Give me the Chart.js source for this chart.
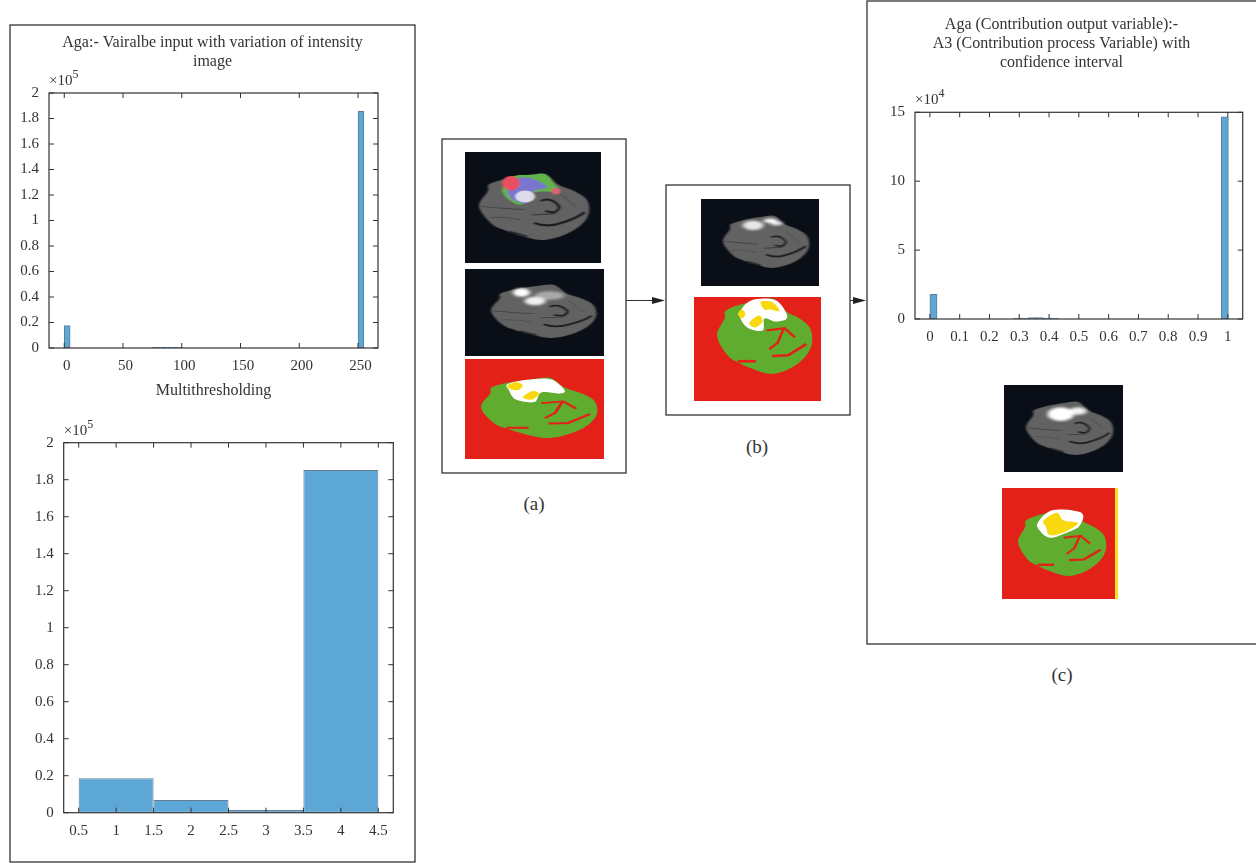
<!DOCTYPE html>
<html>
<head>
<meta charset="utf-8">
<title>Multithresholding histograms</title>
<script src="https://cdn.jsdelivr.net/npm/chart.js@4"></script>
<style>
  html, body { margin: 0; padding: 0; background: #fff; width: 1256px; height: 863px; overflow: hidden; }
  canvas, #figure { position: absolute; }
  #figure { left: 0; top: 0; }
</style>
</head>
<body>
<svg id="figure" width="1256" height="863" xmlns="http://www.w3.org/2000/svg"></svg>
<canvas id="inputHist"></canvas>
<canvas id="binHist"></canvas>
<canvas id="outputHist"></canvas>
<script>
// Histogram values
const inputBins = [2.5, 77.5, 82.5, 87.5, 92.5, 97.5, 252.5];
const inputCounts = [17500, 500, 600, 700, 600, 500, 185600];
const inputXTicks = [0, 50, 100, 150, 200, 250];
const inputYTicks = [0, 20000, 40000, 60000, 80000, 100000, 120000, 140000, 160000, 180000, 200000];

const classBins = [1, 2, 3, 4];
const classCounts = [18600, 6800, 1400, 185200];
const classXTicks = [0.5, 1, 1.5, 2, 2.5, 3, 3.5, 4, 4.5];
const classYTicks = inputYTicks;

const outputBins = [0.012, 0.295, 0.32, 0.344, 0.368, 0.393, 0.417, 0.99];
const outputCounts = [17900, 500, 600, 1100, 1100, 700, 500, 146800];
const outputXTicks = [0, 0.1, 0.2, 0.3, 0.4, 0.5, 0.6, 0.7, 0.8, 0.9, 1];
const outputYTicks = [0, 50000, 100000, 150000];

const SERIF = "'Liberation Serif', serif";
const INK = "#333";

// Matlab style box with inward ticks and the x10^n multiplier
const boxPlugin = {
  id: "box",
  afterDatasetsDraw(chart, args, opts) {
    const { ctx, chartArea: a, scales } = chart;
    ctx.save();
    ctx.strokeStyle = INK;
    ctx.lineWidth = 1.2;
    ctx.strokeRect(a.left, a.top, a.width, a.height);
    ctx.lineWidth = 1;
    ctx.beginPath();
    scales.x.ticks.forEach((t) => {
      const px = scales.x.getPixelForValue(t.value);
      ctx.moveTo(px, a.top); ctx.lineTo(px, a.top + 5);
      ctx.moveTo(px, a.bottom); ctx.lineTo(px, a.bottom - 5);
    });
    scales.y.ticks.forEach((t) => {
      const py = scales.y.getPixelForValue(t.value);
      ctx.moveTo(a.left, py); ctx.lineTo(a.left + 5, py);
      ctx.moveTo(a.right, py); ctx.lineTo(a.right - 5, py);
    });
    ctx.stroke();
    ctx.fillStyle = INK;
    ctx.textAlign = "left";
    ctx.textBaseline = "alphabetic";
    ctx.font = "15px " + SERIF;
    ctx.fillText("×10", a.left, a.top - 8);
    const w = ctx.measureText("×10").width;
    ctx.font = "12px " + SERIF;
    ctx.fillText(opts.exponent, a.left + w, a.top - 15);
    ctx.restore();
  },
};

function histogram(id, frame, spec) {
  const canvas = document.getElementById(id);
  canvas.style.left = frame.left + "px";
  canvas.style.top = frame.top + "px";
  canvas.style.width = frame.width + "px";
  canvas.style.height = frame.height + "px";
  canvas.width = frame.width;
  canvas.height = frame.height;
  return new Chart(canvas, {
    type: "bar",
    data: {
      datasets: [{
        data: spec.bins.map((x, i) => ({ x, y: spec.counts[i] })),
        backgroundColor: "#5ca7d6",
        borderColor: "rgba(60,90,120,0.8)",
        borderWidth: 1,
        borderSkipped: false,
        barPercentage: 1,
        // Chart.js takes the bar slot from the tick gap when it is smaller than the bin gap
        categoryPercentage: spec.binsPerSlot || 1,
        grouped: false,
      }],
    },
    options: {
      responsive: false,
      animation: false,
      layout: { padding: frame.padding },
      plugins: {
        legend: { display: false },
        tooltip: { enabled: false },
        title: spec.title ? {
          display: true,
          text: spec.title,
          color: INK,
          font: { family: SERIF, size: 16, weight: "normal", lineHeight: 18.7 / 16 },
          padding: spec.titlePadding,
        } : { display: false },
        box: { exponent: spec.exponent },
      },
      scales: {
        x: {
          type: "linear",
          offset: false,
          min: spec.xRange[0],
          max: spec.xRange[1],
          grid: { display: false, tickLength: 0 },
          border: { display: false },
          afterBuildTicks: (axis) => { axis.ticks = spec.xTicks.map((value) => ({ value })); },
          afterFit: (axis) => { axis.height = frame.axisHeight; },
          title: spec.xTitle ? {
            display: true,
            text: spec.xTitle,
            color: INK,
            font: { family: SERIF, size: 16 },
            padding: { top: 0, bottom: 5 },
          } : { display: false },
          ticks: {
            color: INK,
            font: { family: SERIF, size: 15 },
            padding: 9,
            maxRotation: 0,
            autoSkip: false,
            labelOffset: spec.labelOffset || 0,
            callback: (v) => String(v),
          },
        },
        y: {
          min: spec.yTicks[0],
          max: spec.yTicks[spec.yTicks.length - 1],
          grid: { display: false, tickLength: 0 },
          border: { display: false },
          afterBuildTicks: (axis) => { axis.ticks = spec.yTicks.map((value) => ({ value })); },
          afterFit: (axis) => { axis.width = frame.axisWidth; },
          ticks: {
            color: INK,
            font: { family: SERIF, size: 15 },
            padding: 10,
            autoSkip: false,
            callback: (v) => String(+(v / Math.pow(10, spec.exponent)).toFixed(1)),
          },
        },
        // empty right axis keeps the title centred on the whole panel
        margin: {
          position: "right",
          grid: { display: false },
          border: { display: false },
          ticks: { display: false },
          afterFit: (axis) => { axis.width = frame.marginRight; },
        },
      },
    },
    plugins: [boxPlugin],
  });
}

histogram("inputHist",
  { left: 10, top: 26, width: 405, height: 379, axisWidth: 39, axisHeight: 57, marginRight: 37, padding: 0 },
  {
    bins: inputBins, counts: inputCounts, xTicks: inputXTicks, yTicks: inputYTicks,
    xRange: [-13, 267], exponent: 5, labelOffset: 2.5,
    title: ["Aga:- Vairalbe input with variation of intensity", "image"],
    titlePadding: { top: 7.3, bottom: 22.3 },
    xTitle: "Multithresholding",
  });

histogram("binHist",
  { left: 10, top: 415, width: 405, height: 445, axisWidth: 53.7, axisHeight: 47.3, marginRight: 21.7, padding: { top: 27.7 } },
  {
    bins: classBins, counts: classCounts, xTicks: classXTicks, yTicks: classYTicks,
    xRange: [0.3, 4.7], exponent: 5, binsPerSlot: 2,
  });

histogram("outputHist",
  { left: 868, top: 2, width: 387, height: 348, axisWidth: 47, axisHeight: 31, marginRight: 12.3, padding: 0 },
  {
    bins: outputBins, counts: outputCounts, xTicks: outputXTicks, yTicks: outputYTicks,
    xRange: [-0.05, 1.05], exponent: 4,
    title: ["Aga (Contribution output variable):-", "A3 (Contribution process Variable) with", "confidence interval"],
    titlePadding: { top: 13.6, bottom: 40.6 },
  });

// Frames, arrows, captions and the brain pictures around the charts
const brainOutline = [[23, 8], [44, 2], [60, 0], [72, 16], [87, 26], [98, 39], [100, 59], [93, 77], [78, 92], [57, 100], [35, 92], [23, 85], [11, 75], [0, 49], [8, 26], [9, 16]];
const graySulci = [
  ["M50 74 Q62 82 75 74 Q88 68 96 58", 3.4, 1],
  ["M56 41 Q66 34 73 49 Q72 62 60 56", 3, 1],
  ["M2 49 Q20 52 41 54", 1.4, 0.5],
  ["M27 87 Q36 90 44 95", 2.4, 0.9],
  ["M48 62 L70 60", 1.6, 0.6],
  ["M10 66 Q24 64 38 70", 1.2, 0.35],
  ["M74 30 Q84 44 88 50", 1.2, 0.3],
];
const redSulci = [
  ["M52 42 L71 39 L82 51", 2.8],
  ["M70 40 L64 58 L55 67", 2.8],
  ["M58 76 L75 75 L94 60", 3.4],
  ["M22 83 L41 83", 3.6],
];

function smoothPath(pts) {
  const n = pts.length;
  let d = `M${pts[0]} `;
  for (let i = 0; i < n; i++) {
    const p0 = pts[(i + n - 1) % n], p1 = pts[i], p2 = pts[(i + 1) % n], p3 = pts[(i + 2) % n];
    const c1 = [p1[0] + (p2[0] - p0[0]) / 6, p1[1] + (p2[1] - p0[1]) / 6];
    const c2 = [p2[0] - (p3[0] - p1[0]) / 6, p2[1] - (p3[1] - p1[1]) / 6];
    d += `C${c1} ${c2} ${p2} `;
  }
  return d + "Z";
}

const outline = smoothPath(brainOutline);

function placed(box, inner) {
  const [x0, y0, x1, y1] = box;
  return `<g transform="translate(${x0} ${y0}) scale(${(x1 - x0) / 100} ${(y1 - y0) / 100})">${inner}</g>`;
}

function grayBrain(img, box, spots, overlay = "") {
  const glows = spots.map(([x, y, rx, ry, o]) => `<ellipse cx="${x}" cy="${y}" rx="${rx}" ry="${ry}" fill="#fff" opacity="${o}"/>`).join("");
  const lines = graySulci.map(([d, w, o]) => `<path d="${d}" fill="none" stroke="#1d1e22" stroke-width="${w}" opacity="${o}"/>`).join("");
  return `<rect x="${img[0]}" y="${img[1]}" width="${img[2]}" height="${img[3]}" fill="#0a0e16"/>` +
    placed(box, `<g filter="url(#soft)"><path d="${outline}" fill="#626262"/>${lines}</g><g filter="url(#glow)">${glows}</g><g filter="url(#soft)">${overlay}</g>`);
}

function segBrain(img, box, whites, yellows) {
  const poly = (pts, fill) => `<path d="${smoothPath(pts)}" fill="${fill}"/>`;
  const lines = redSulci.map(([d, w]) => `<path d="${d}" fill="none" stroke="#e32119" stroke-width="${w}"/>`).join("");
  return `<rect x="${img[0]}" y="${img[1]}" width="${img[2]}" height="${img[3]}" fill="#e32119"/>` +
    placed(box, `<path d="${outline}" fill="#5fac2e"/>${lines}${whites.map((p) => poly(p, "#fff")).join("")}${yellows.map((p) => poly(p, "#f8d90f")).join("")}`);
}

const whiteA = [[[23, 10], [40, 3], [60, 2], [72, 20], [68, 26], [52, 24], [46, 40], [30, 36], [24, 20]]];
const yellowA = [
  [[23, 12], [30, 7], [36, 12], [32, 20], [25, 18]],
  [[36, 32], [44, 22], [50, 26], [44, 36]],
];
const whiteB = [[[24, 20], [36, 2], [62, 2], [74, 24], [62, 30], [50, 26], [48, 42], [32, 38]]];
const yellowB = [
  [[22, 20], [26, 14], [30, 20], [26, 26]],
  [[34, 32], [44, 22], [48, 30], [40, 38]],
  [[46, 4], [58, 4], [66, 16], [56, 14], [50, 14]],
];
const whiteC = [[[23, 18], [40, 0], [72, 4], [70, 24], [56, 34], [36, 42], [24, 30]]];
const yellowC = [[[29, 16], [44, 4], [52, 16], [68, 20], [52, 34], [36, 38], [32, 26]]];

const rgbOverlay = `
  <path d="${smoothPath([[21, 24], [30, 4], [48, 1], [60, 0], [68, 14], [72, 26], [50, 28], [40, 46], [28, 40]])}" fill="#63b34d"/>
  <path d="${smoothPath([[26, 22], [36, 6], [50, 8], [62, 20], [50, 26], [44, 44], [30, 38]])}" fill="#7a76cf"/>
  <ellipse cx="42" cy="34" rx="9" ry="9" fill="#eee" opacity="0.85"/>
  <ellipse cx="29" cy="14" rx="8" ry="11" fill="#e8505e"/>
  <ellipse cx="70" cy="26" rx="4" ry="5" fill="#d9636f"/>`;

const frames = [[10, 25, 405, 837], [442, 139, 184, 334], [666, 185, 184, 230], [867, 1, 400, 643]];
const captions = [["(a)", 534, 510], ["(b)", 757, 453], ["(c)", 1062, 681]];
const arrows = [[626, 665, 300.5], [850, 866, 300.5]];

document.getElementById("figure").innerHTML = `
  <defs>
    <filter id="soft" x="-10%" y="-10%" width="120%" height="120%"><feGaussianBlur stdDeviation="1"/></filter>
    <filter id="glow" x="-30%" y="-30%" width="160%" height="160%"><feGaussianBlur stdDeviation="2.2"/></filter>
  </defs>
  ${frames.map(([x, y, w, h]) => `<rect x="${x}" y="${y}" width="${w}" height="${h}" fill="none" stroke="${INK}" stroke-width="1.3"/>`).join("")}
  ${arrows.map(([a, b, y]) => `<line x1="${a}" x2="${b - 10}" y1="${y}" y2="${y}" stroke="${INK}" stroke-width="1"/><path d="M${b} ${y} L${b - 13} ${y - 3.5} L${b - 13} ${y + 3.5} Z" fill="#222"/>`).join("")}
  ${captions.map(([t, x, y]) => `<text x="${x}" y="${y}" text-anchor="middle" font-family="${SERIF.replace(/'/g, "")}" font-size="19" fill="${INK}">${t}</text>`).join("")}
  ${grayBrain([465, 152, 136, 111], [479, 174, 589, 240], [], rgbOverlay)}
  ${grayBrain([465, 269, 139, 87], [491, 285, 596, 338], [[29, 14, 8, 8, 1], [42, 30, 10, 8, 0.9], [56, 20, 14, 8, 0.45]])}
  ${segBrain([465, 359, 139, 100], [481, 378, 597, 438], whiteA, yellowA)}
  ${grayBrain([701, 199, 118, 87], [723, 216, 809, 268], [[35, 18, 12, 9, 0.85], [55, 9, 8, 4, 1], [62, 14, 7, 4, 0.9]])}
  ${segBrain([694, 297, 127, 104], [717, 299, 812, 374], whiteB, yellowB)}
  ${grayBrain([1004, 385, 119, 87], [1026, 402, 1113, 455], [[40, 23, 15, 13, 1], [60, 17, 10, 7, 0.9]])}
  ${segBrain([1002, 488, 113, 111], [1018, 510, 1106, 576], whiteC, yellowC)}
  <rect x="1115" y="488" width="3" height="111" fill="#f8e21a"/>`;
</script>
</body>
</html>
